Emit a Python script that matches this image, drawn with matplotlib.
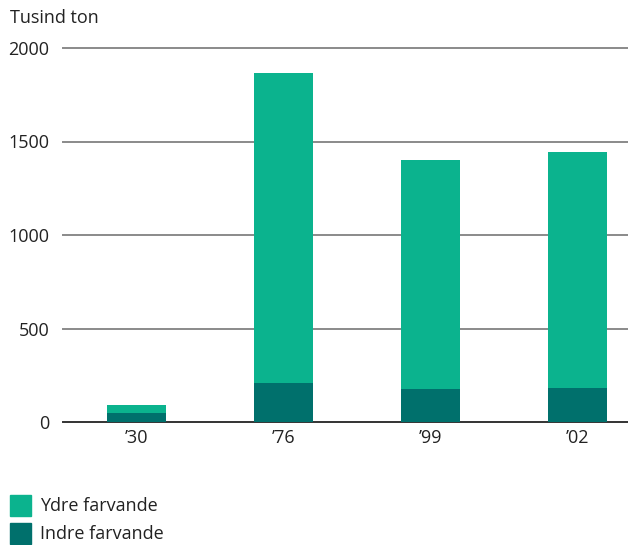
import matplotlib
matplotlib.use("Agg")
import matplotlib.pyplot as plt
from matplotlib.patches import Rectangle

years = ["’30", "’76", "’99", "’02"]
indre = [50, 208, 176, 182]
ydre_total = [91, 1866, 1401, 1444]
ydre = [t - i for t, i in zip(ydre_total, indre)]
yticks = [0, 500, 1000, 1500, 2000]

c_ydre = "#0BB38E"
c_indre = "#00706C"
txt = "#222222"

plt.rcParams["font.family"] = ["Open Sans", "DejaVu Sans"]

W, H = 628, 545
fig = plt.figure(figsize=(W / 100, H / 100), dpi=100)
ax = fig.add_axes([63 / W, 1 - 422 / H, (628 - 63) / W, (422 - 48) / H])

x = list(range(len(years)))
ax.bar(x, indre, width=0.4, color=c_indre, zorder=3)
ax.bar(x, ydre, width=0.4, bottom=indre, color=c_ydre, zorder=3)

ax.set_xlim(-0.5, 3.343)
ax.set_ylim(0, 2000)
ax.set_yticks(yticks)
ax.set_yticklabels([str(v) for v in yticks], fontsize=13, color=txt)
ax.set_xticks(x)
ax.set_xticklabels(years, fontsize=13, color=txt)
ax.tick_params(axis="both", length=0)
ax.tick_params(axis="y", pad=10)
ax.tick_params(axis="x", pad=5)

for v in yticks[1:]:
    ax.axhline(v, color="#8a8a8a", lw=1.4, zorder=1, clip_on=False)

for s in ["top", "right", "left"]:
    ax.spines[s].set_visible(False)
ax.spines["bottom"].set_color("#333333")
ax.spines["bottom"].set_linewidth(1.4)

fig.text(10 / W, 1 - 18 / H, "Tusind ton", fontsize=13, color=txt, va="center", ha="left")

# legend
for i, (lab, col) in enumerate([("Ydre farvande", c_ydre), ("Indre farvande", c_indre)]):
    y0 = 495 + i * 28
    fig.patches.append(Rectangle((10 / W, 1 - (y0 + 21) / H), 21 / W, 21 / H,
                                 transform=fig.transFigure, color=col))
    fig.text(40 / W, 1 - (y0 + 11) / H, lab, fontsize=13, color=txt, va="center", ha="left")

fig.savefig("out.png", dpi=100)
